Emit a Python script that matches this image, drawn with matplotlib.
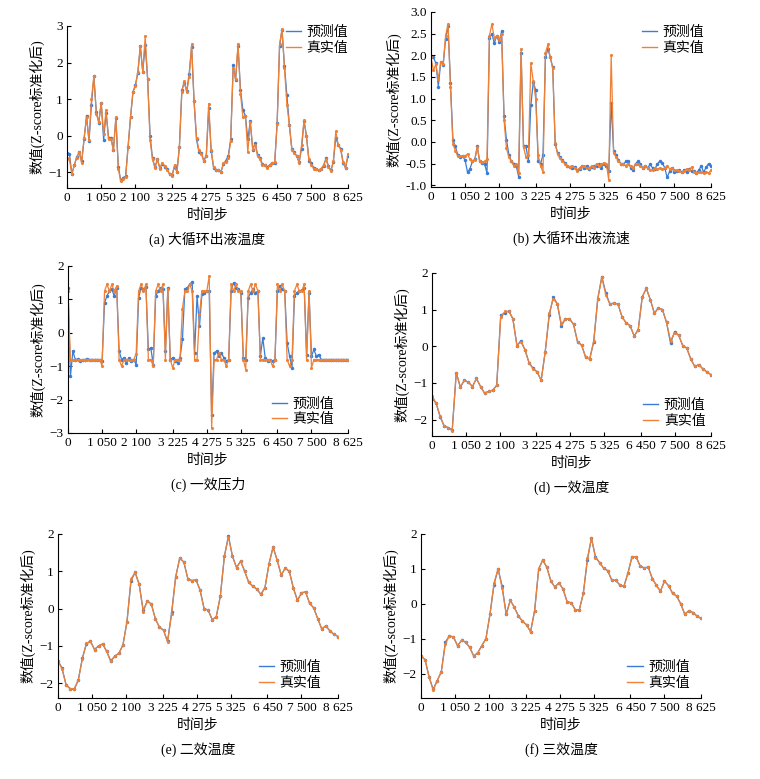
import matplotlib
matplotlib.use("Agg")
import matplotlib.pyplot as plt
from matplotlib.ticker import FormatStrFormatter
from matplotlib.lines import Line2D
import numpy as np

plt.rcParams['font.family'] = ['Liberation Serif', 'Noto Sans CJK SC', 'DejaVu Sans']
plt.rcParams['font.size'] = 9
plt.rcParams['axes.unicode_minus'] = True

x_max = 8625
x_ticks = [0, 1050, 2100, 3225, 4275, 5325, 6450, 7500, 8625]
x_tick_labels = ['0', '1 050', '2 100', '3 225', '4 275', '5 325', '6 450', '7 500', '8 625']

# (a) 大循环出液温度, one value every 75 steps
a_true = [-0.6, -0.65, -1.05, -0.8, -0.6, -0.45, -0.75, -0.05, 0.5, -0.12,
          1.0, 1.62, 0.6, 0.38, 0.9, 0.05, 0.7, -0.1, -0.1, -0.4,
          0.5, -0.9, -1.25, -1.18, -1.12, -0.3, 0.52, 1.2, 1.35, 1.75,
          2.45, 1.75, 2.72, 1.55, -0.12, -0.65, -0.88, -0.65, -0.9, -0.75,
          -0.82, -0.95, -1.05, -1.1, -0.8, -1.0, -0.3, 1.2, 1.5, 1.2,
          1.6, 2.5, 0.95, -0.05, -0.4, -0.5, -0.7, -0.55, 0.88, -0.4,
          -0.85, -0.95, -0.95, -1.0, -0.75, -0.72, -0.6, -0.15, 1.85, 1.55,
          2.52, 1.15, 0.5, 0.55, -0.45, 0.38, -0.35, -0.25, -0.55, -0.65,
          -0.8, -0.8, -0.88, -0.8, -0.75, -0.72, 0.32, 2.5, 2.92, 1.85,
          0.85, 0.3, -0.38, -0.48, -0.55, -0.75, -0.25, 0.42, -0.02, -0.65,
          -0.8, -0.9, -0.92, -0.95, -0.9, -0.8, -0.65, -0.85, -0.97, -0.7,
          0.12, -0.25, -0.38, -0.72, -0.88, -0.5]
a_pred = [-0.47, -0.5, -1.05, -0.8, -0.58, -0.45, -0.7, -0.1, 0.55, -0.15,
          0.85, 1.62, 0.65, 0.35, 0.9, -0.12, 0.62, -0.05, -0.05, -0.38,
          0.48, -0.85, -1.22, -1.15, -1.1, -0.3, 0.5, 1.2, 1.4, 1.72,
          2.45, 1.75, 2.48, 1.55, 0.0, -0.62, -0.86, -0.65, -0.88, -0.77,
          -0.85, -0.92, -1.05, -1.08, -0.85, -0.98, -0.3, 1.25, 1.45, 1.22,
          1.7, 2.42, 0.95, -0.1, -0.45, -0.48, -0.68, -0.55, 0.75, -0.42,
          -0.88, -0.93, -0.95, -0.98, -0.78, -0.68, -0.55, -0.1, 1.92, 1.52,
          2.45, 1.25, 0.7, 0.55, -0.1, 0.4, -0.38, -0.2, -0.52, -0.62,
          -0.78, -0.8, -0.86, -0.8, -0.75, -0.75, 0.35, 2.45, 2.9, 1.9,
          1.1, 0.3, -0.35, -0.45, -0.55, -0.72, -0.35, 0.4, 0.0, -0.68,
          -0.75, -0.88, -0.9, -0.95, -0.92, -0.82, -0.62, -0.83, -0.95, -0.72,
          -0.05, -0.25, -0.35, -0.75, -0.88, -0.55]

# (b) 大循环出液流速, one value every 75 steps
b_true = [1.95, 1.65, 1.8, 1.45, 1.85, 1.8, 2.45, 2.72, 1.28, -0.05,
          -0.2, -0.33, -0.32, -0.33, -0.32, -0.28, -0.4, -0.45, -0.42, -0.12,
          -0.45, -0.47, -0.45, -0.4, 2.45, 2.72, 2.4, 2.45, 2.35, 2.5,
          0.5, -0.15, -0.35, -0.45, -0.55, -0.5, -0.72, 2.15, -0.12, -0.35,
          -0.3, 1.82, 1.4, 1.0, -0.3, -0.55, -0.7, 2.05, 2.25, 1.95,
          1.7, -0.02, -0.28, -0.38, -0.45, -0.5, -0.55, -0.57, -0.55, -0.6,
          -0.67, -0.6, -0.55, -0.55, -0.6, -0.6, -0.55, -0.6, -0.5, -0.55,
          -0.52, -0.48, -0.5, -0.88, 2.0, -0.25, -0.35, -0.45, -0.5, -0.5,
          -0.55, -0.5, -0.55, -0.6, -0.5, -0.5, -0.55, -0.6, -0.55, -0.6,
          -0.65, -0.65, -0.6, -0.62, -0.6, -0.63, -0.6, -0.55, -0.62, -0.6,
          -0.65, -0.65, -0.68, -0.7, -0.68, -0.62, -0.65, -0.58, -0.7, -0.72,
          -0.7, -0.7, -0.72, -0.7, -0.72, -0.65]
b_pred = [1.95, 1.95, 1.82, 1.28, 1.85, 1.78, 2.38, 2.68, 1.35, 0.05,
          -0.1, -0.3, -0.35, -0.33, -0.42, -0.7, -0.62, -0.45, -0.4, -0.1,
          -0.45, -0.48, -0.5, -0.72, 2.4, 2.5, 2.28, 2.45, 2.3, 2.55,
          0.6, 0.05, -0.3, -0.45, -0.5, -0.55, -0.8, 2.05, -0.1, -0.1,
          -0.45, 0.85, 1.38, 1.2, -0.45, -0.5, -0.3, 1.95, 2.15, 1.95,
          1.72, -0.05, -0.25, -0.35, -0.42, -0.48, -0.55, -0.58, -0.6, -0.58,
          -0.65, -0.62, -0.55, -0.6, -0.55, -0.62, -0.58, -0.55, -0.55, -0.5,
          -0.6, -0.5, -0.55, -0.68, 0.9, -0.2, -0.3, -0.42, -0.5, -0.52,
          -0.45, -0.45, -0.6, -0.65, -0.5, -0.45, -0.5, -0.6, -0.55, -0.6,
          -0.52, -0.6, -0.62, -0.5, -0.45, -0.48, -0.6, -0.82, -0.68, -0.6,
          -0.7, -0.68, -0.65, -0.7, -0.65, -0.7, -0.62, -0.68, -0.68, -0.72,
          -0.65, -0.55, -0.7, -0.58, -0.5, -0.55]

# (c) 一效压力, one value every 75 steps
c_true = [1.25, -0.8, -0.8, -0.8, -0.8, -0.8, -0.8, -0.8, -0.8, -0.8,
          -0.8, -0.8, -0.8, -0.8, -1.0, 1.25, 1.45, 1.25, 1.45, 1.25,
          1.4, -0.8, -1.0, -0.8, -0.8, -0.8, -0.8, -0.8, -0.62, 1.25,
          1.45, 1.25, 1.45, -0.8, -0.8, -1.0, 1.25, 1.45, 1.25, 1.45,
          -0.8, 1.3, -0.8, -1.05, -0.8, -0.8, -0.8, 0.72, 1.25, 1.25,
          1.45, 1.25, -0.8, -0.8, 0.55, 1.25, 1.25, 1.25, 1.7, -2.85,
          -0.8, -0.8, -0.6, -0.8, -0.8, -1.0, -0.8, 1.45, 1.25, 1.45,
          1.25, 1.25, -0.8, -1.1, 1.25, 1.45, 1.25, 1.45, 1.25, -0.8,
          -0.8, -0.8, -0.8, -0.8, -1.0, -0.8, 1.45, 1.25, 1.45, 1.25,
          -0.8, -1.0, -0.8, 1.25, 1.45, 1.25, 1.25, 1.45, -0.8, 1.25,
          -1.05, -0.8, -0.8, -0.8, -0.8, -0.8, -0.8, -0.8, -0.8, -0.8,
          -0.8, -0.8, -0.8, -0.8, -0.8, -0.8]
c_pred = [1.35, -1.3, -0.55, -0.8, -0.78, -0.85, -0.82, -0.8, -0.78, -0.8,
          -0.8, -0.8, -0.8, -0.8, -0.85, 0.9, 1.1, 1.25, 1.3, 1.1,
          1.35, -0.55, -0.8, -0.75, -0.9, -0.75, -0.85, -0.8, -0.95, 1.05,
          1.35, 1.3, 1.38, -0.5, -0.45, -0.95, 1.1, 1.25, 1.35, 1.3,
          -0.55, 1.33, -0.8, -0.75, -0.85, -0.9, -0.75, -0.2, 1.3, 1.35,
          1.45, 1.52, -0.6, 1.1, 0.2, 1.15, 1.2, 1.25, 1.25, -2.45,
          -0.6, -0.55, -0.7, -0.6, -0.75, -0.85, -0.8, 1.25, 1.5, 1.35,
          1.3, 1.2, -0.75, -0.8, 1.05, 1.2, 1.3, 1.2, 1.25, -0.7,
          -0.15, -0.75, -0.85, -0.8, -0.85, -0.8, 1.25, 1.4, 1.3, 1.25,
          -0.3, -0.7, -1.05, 1.1, 1.2, 1.25, 1.28, 1.35, -0.65, 1.2,
          -0.7, -0.5, -0.7, -0.65, -0.8, -0.8, -0.8, -0.8, -0.8, -0.8,
          -0.8, -0.8, -0.8, -0.8, -0.8, -0.8]

# (d) 一效温度, one value every 125 steps
d_true = [-1.35, -1.55, -1.9, -2.18, -2.22, -2.3, -0.72, -1.1, -0.93, -0.98,
          -1.1, -0.88, -1.1, -1.28, -1.23, -1.2, -1.07, 0.8, 0.95, 0.95,
          0.75, 0.02, 0.12, -0.1, -0.45, -0.62, -0.7, -0.93, -0.15, 0.9,
          1.3, 1.15, 0.6, 0.75, 0.75, 0.6, 0.12, 0.03, -0.3, -0.35,
          0.15, 1.3, 1.88, 1.4, 1.15, 1.18, 1.15, 0.8, 0.64, 0.56,
          0.28, 0.45, 1.35, 1.58, 1.27, 0.9, 1.05, 1.0, 0.65, 0.15,
          0.37, 0.3, 0.02, -0.05, -0.35, -0.55, -0.5, -0.62, -0.7, -0.78]
d_pred = [-1.42, -1.55, -1.92, -2.18, -2.22, -2.28, -0.72, -1.12, -0.93, -0.98,
          -1.1, -0.88, -1.1, -1.28, -1.23, -1.2, -1.07, 0.85, 0.9, 0.97,
          0.75, 0.02, 0.15, -0.1, -0.45, -0.6, -0.7, -0.93, -0.15, 0.85,
          1.35, 1.15, 0.55, 0.75, 0.75, 0.6, 0.12, 0.03, -0.3, -0.35,
          0.12, 1.3, 1.9, 1.45, 1.15, 1.18, 1.15, 0.8, 0.64, 0.56,
          0.28, 0.45, 1.35, 1.58, 1.27, 0.9, 1.05, 1.0, 0.65, 0.08,
          0.4, 0.3, 0.02, -0.05, -0.35, -0.55, -0.5, -0.62, -0.7, -0.78]

# (e) 二效温度, one value every 125 steps
e_true = [-1.4, -1.62, -2.05, -2.15, -2.15, -1.92, -1.35, -0.93, -0.88, -1.1,
          -1.0, -0.95, -1.15, -1.42, -1.28, -1.2, -0.98, -0.35, 0.8, 0.97,
          0.65, -0.08, 0.2, 0.12, -0.28, -0.5, -0.58, -0.9, -0.15, 0.85,
          1.35, 1.25, 0.8, 0.75, 0.77, 0.5, 0.0, -0.04, -0.3, -0.22,
          0.33, 1.4, 1.92, 1.4, 1.1, 1.27, 1.0, 0.7, 0.6, 0.52,
          0.38, 0.56, 1.2, 1.65, 1.3, 0.9, 1.08, 1.0, 0.55, 0.22,
          0.42, 0.45, 0.14, 0.02, -0.27, -0.55, -0.46, -0.6, -0.69, -0.75]
e_pred = [-1.4, -1.6, -2.05, -2.15, -2.17, -1.92, -1.33, -0.95, -0.88, -1.1,
          -1.0, -0.95, -1.15, -1.4, -1.28, -1.2, -0.98, -0.35, 0.75, 0.97,
          0.65, -0.05, 0.2, 0.12, -0.28, -0.5, -0.58, -0.88, -0.1, 0.85,
          1.35, 1.25, 0.8, 0.75, 0.77, 0.5, 0.0, -0.04, -0.3, -0.22,
          0.33, 1.4, 1.95, 1.4, 1.1, 1.27, 1.0, 0.7, 0.6, 0.52,
          0.38, 0.56, 1.2, 1.65, 1.3, 0.9, 1.08, 1.0, 0.55, 0.22,
          0.42, 0.45, 0.14, 0.02, -0.27, -0.55, -0.46, -0.6, -0.69, -0.75]

# (f) 三效温度, one value every 125 steps
f_true = [-1.5, -1.6, -2.1, -2.48, -2.2, -1.95, -1.15, -0.92, -0.95, -1.2,
          -1.05, -1.1, -1.25, -1.5, -1.4, -1.2, -1.0, -0.3, 0.6, 1.0,
          0.45, -0.3, 0.1, -0.1, -0.35, -0.5, -0.6, -0.8, -0.2, 1.0,
          1.25, 1.05, 0.65, 0.48, 0.6, 0.42, 0.06, 0.03, -0.17, -0.18,
          0.3, 1.3, 1.88, 1.32, 1.18, 1.02, 0.95, 0.68, 0.67, 0.54,
          0.5, 0.88, 1.35, 1.35, 1.08, 1.03, 1.05, 0.72, 0.53, 0.36,
          0.65, 0.52, 0.3, 0.22, 0.0, -0.3, -0.2, -0.25, -0.35, -0.42]
f_pred = [-1.5, -1.6, -2.1, -2.45, -2.2, -1.95, -1.1, -0.92, -0.95, -1.2,
          -1.05, -1.1, -1.25, -1.5, -1.4, -1.2, -1.0, -0.3, 0.55, 1.0,
          0.5, -0.3, 0.1, -0.1, -0.35, -0.5, -0.6, -0.8, -0.2, 1.0,
          1.25, 1.05, 0.65, 0.48, 0.6, 0.42, 0.06, 0.03, -0.17, -0.18,
          0.3, 1.25, 1.88, 1.35, 1.18, 1.02, 0.95, 0.68, 0.67, 0.54,
          0.5, 0.88, 1.35, 1.35, 1.08, 1.03, 1.05, 0.72, 0.53, 0.36,
          0.65, 0.52, 0.3, 0.22, 0.0, -0.3, -0.2, -0.25, -0.35, -0.42]

titles = ['(a) 大循环出液温度', '(b) 大循环出液流速', '(c) 一效压力',
          '(d) 一效温度', '(e) 二效温度', '(f) 三效温度']

blue = '#3a7dd6'
orange = '#ee8136'

W, H = 760, 779
fig = plt.figure(figsize=(W / 100, H / 100), dpi=100)

# left, right, top, bottom of each plot area in pixels
boxes = [(67, 348, 26, 188), (431, 711, 12, 187),
         (68, 348, 266, 433), (432, 711, 273, 436),
         (58, 338, 534, 698), (421, 701, 534, 698)]
ylims = [(-1.43, 3.0), (-1.04, 3.0), (-3.0, 2.0), (-2.45, 2.0), (-2.4, 2.0), (-2.7, 2.0)]
yticks = [[-1, 0, 1, 2, 3], list(np.arange(-1.0, 3.01, 0.5)), [-3, -2, -1, 0, 1, 2],
          [-2, -1, 0, 1, 2], [-2, -1, 0, 1, 2], [-2, -1, 0, 1, 2]]
leg_loc = ['upper right', 'upper right', 'lower right', 'lower right', 'lower right', 'lower right']
leg_anchor = [(1.0, 1.0), (0.975, 0.92), (0.95, 0.04), (0.98, 0.05), (0.94, 0.05), (0.96, 0.05)]

series = [(a_true, a_pred), (b_true, b_pred), (c_true, c_pred),
          (d_true, d_pred), (e_true, e_pred), (f_true, f_pred)]

handles = [Line2D([], [], color=blue, lw=1.0), Line2D([], [], color=orange, lw=1.0)]

for k, (tr, pr) in enumerate(series):
    l, r, t, b = boxes[k]
    ax = fig.add_axes([l / W, 1 - b / H, (r - l) / W, (b - t) / H])
    x = np.linspace(0, x_max, len(tr))
    ax.plot(x, pr, color=blue, lw=0.9, marker='.', ms=3)
    ax.plot(x, tr, color=orange, lw=0.9, marker='.', ms=2.5)
    ax.set_xlim(0, x_max)
    ax.set_ylim(*ylims[k])
    ax.set_xticks(x_ticks, x_tick_labels)
    ax.set_yticks(yticks[k])
    if k == 1:
        ax.yaxis.set_major_formatter(FormatStrFormatter('%.1f'))
    for s in ['top', 'right']:
        ax.spines[s].set_visible(False)
    ax.tick_params(direction='in', length=3, width=0.8, labelsize=9.5, pad=3)
    ax.set_xlabel('时间步', fontsize=10, labelpad=3)
    ax.set_ylabel('数值(Z-score标准化后)', fontsize=10, labelpad=3)
    ax.legend(handles, ['预测值', '真实值'], loc=leg_loc[k], bbox_to_anchor=leg_anchor[k],
              frameon=False, fontsize=10, handlelength=1.1, handletextpad=0.4,
              labelspacing=0.2, borderpad=0, borderaxespad=0)
    ax.annotate(titles[k], xy=(0.5, 0), xycoords='axes fraction', xytext=(0, -37),
                textcoords='offset points', ha='center', va='center', fontsize=10)

fig.savefig('out.png', dpi=100)
